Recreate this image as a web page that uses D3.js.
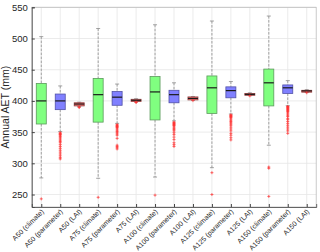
<!DOCTYPE html>
<html><head><meta charset="utf-8">
<script src="https://cdn.jsdelivr.net/npm/d3@7/dist/d3.min.js"></script>
<style>body{margin:0;background:#fff}svg{display:block}</style>
</head><body><svg id="c" width="320" height="252"></svg>
<script>
const categories = ["A50 (climate)","A50 (parameter)","A50 (LAI)","A75 (climate)","A75 (parameter)","A75 (LAI)","A100 (climate)","A100 (parameter)","A100 (LAI)","A125 (climate)","A125 (parameter)","A125 (LAI)","A150 (climate)","A150 (parameter)","A150 (LAI)"];
const groups = ["climate","parameter","LAI","climate","parameter","LAI","climate","parameter","LAI","climate","parameter","LAI","climate","parameter","LAI"];
const whiskerHigh = [503,424,398,516,427,403.5,522,429,407,528,431,413,536,432.5,418];
const q3 =          [428,411,397,436,415,402.6,439,417,406.4,440,422.5,412,451,425.6,417];
const medians =     [400,400,395,410,406,401,414.4,410,404,421,416.5,410.5,429,421,416];
const q1 =          [363,386,392,366,393,399,369.5,397,401.6,380,405,409,392,412,414];
const whiskerLow =  [276.6,351,391,276,364,398.5,278,368,401,293,379,408.5,329,392.5,413.5];
const outliers = [
  [243],
  [349,348,347,346,345,343,341,339,337,335,333,330,327,324,321,318,315,312,309,307],
  [390,389.5],
  [245.5],
  [362,361,360,359,358,357,355,353,351,349,347,345,340,329,327,325,323],
  [398,397.5],
  [249],
  [366,365,364,363,362,361,360,358,356,354,352,349,346,342,338,333,330,327],
  [400.5],
  [285,250],
  [377.5,377,376,375,374,373,371,369,367,365,363,361,358,355,352,348,345,341,337.5],
  [408],
  [294,292,247],
  [391,390.5,390,389,388,387,386,385,384,383,381,379,377,375,372,370,367,364,361,358,355,352,348],
  [413]
];
const yTicks = [250,300,350,400,450,500,550];
const fills = {climate:"#80ff80", parameter:"#8080ff", LAI:"#ff7070"};
const strokes = {climate:"#5c9a5c", parameter:"#5050a8", LAI:"#904040"};

const svg = d3.select("#c");
const L=31.8, R=316.2, T=7.3, B=207;
const x = d3.scaleLinear().domain([0.5,15.5]).range([L,R]);
const y = d3.scaleLinear().domain([230,550]).range([B,T]);
const font = "'Liberation Sans', Arial, Helvetica, sans-serif";

// grid
svg.append("g").selectAll("line.v").data(categories).join("line")
  .attr("x1",(d,i)=>x(i+1)).attr("x2",(d,i)=>x(i+1)).attr("y1",T).attr("y2",B)
  .attr("stroke","#e6e6e6").attr("stroke-width",0.8);
svg.append("g").selectAll("line.h").data(yTicks).join("line")
  .attr("x1",L).attr("x2",R).attr("y1",d=>y(d)).attr("y2",d=>y(d))
  .attr("stroke","#e6e6e6").attr("stroke-width",0.8);

// frame
svg.append("rect").attr("x",L).attr("y",T).attr("width",R-L).attr("height",B-T)
  .attr("fill","none").attr("stroke","#bdbdbd").attr("stroke-width",0.8);

// axes
const yAxis = d3.axisLeft(y).tickValues(yTicks).tickSize(-3).tickPadding(4);
const gy = svg.append("g").attr("transform",`translate(${L},0)`).call(yAxis);
gy.select(".domain").attr("stroke","#444").attr("stroke-width",0.8);
gy.selectAll(".tick line").attr("stroke","#444");
gy.selectAll("text").attr("font-family",font).attr("font-size",9.5).attr("fill","#262626");

const xAxis = d3.axisBottom(x).tickValues(d3.range(1,16)).tickSize(-3).tickFormat("");
const gx = svg.append("g").attr("transform",`translate(0,${B})`).call(xAxis);
gx.select(".domain").attr("stroke","#444").attr("stroke-width",0.8);
gx.selectAll(".tick line").attr("stroke","#444");

svg.append("g").selectAll("text").data(categories).join("text")
  .attr("transform",(d,i)=>`translate(${x(i+1)+3},${B+5}) rotate(-45)`)
  .attr("text-anchor","end").attr("font-family",font).attr("font-size",7)
  .attr("fill","#262626").text(d=>d);

svg.append("text").attr("transform",`translate(9,${(T+B)/2}) rotate(-90)`)
  .attr("text-anchor","middle").attr("font-family",font).attr("font-size",10.5)
  .attr("fill","#262626").text("Annual AET (mm)");

// boxes
const bw = 10, cw = 4;
const g = svg.append("g");
categories.forEach((c,i)=>{
  const cx = x(i+1), grp = groups[i];
  // whiskers
  g.append("line").attr("x1",cx).attr("x2",cx).attr("y1",y(whiskerHigh[i])).attr("y2",y(q3[i]))
    .attr("stroke","#8c8c8c").attr("stroke-width",0.8).attr("stroke-dasharray","2.5,1.5");
  g.append("line").attr("x1",cx).attr("x2",cx).attr("y1",y(q1[i])).attr("y2",y(whiskerLow[i]))
    .attr("stroke","#8c8c8c").attr("stroke-width",0.8).attr("stroke-dasharray","2.5,1.5");
  [whiskerHigh[i],whiskerLow[i]].forEach(v=>{
    g.append("line").attr("x1",cx-cw/2).attr("x2",cx+cw/2).attr("y1",y(v)).attr("y2",y(v))
      .attr("stroke","#8c8c8c").attr("stroke-width",0.8);
  });
  g.append("rect").attr("x",cx-bw/2).attr("width",bw).attr("y",y(q3[i]))
    .attr("height",Math.max(1,y(q1[i])-y(q3[i])))
    .attr("fill",fills[grp]).attr("stroke",strokes[grp]).attr("stroke-width",0.8);
  g.append("line").attr("x1",cx-bw/2).attr("x2",cx+bw/2).attr("y1",y(medians[i])).attr("y2",y(medians[i]))
    .attr("stroke","#1a1a1a").attr("stroke-width",1.2);
  outliers[i].forEach(v=>{
    const py = y(v);
    g.append("path").attr("d",`M${cx-1.5},${py}H${cx+1.5}M${cx},${py-1.5}V${py+1.5}`)
      .attr("stroke","#ff3030").attr("stroke-width",0.7).attr("fill","none");
  });
});
</script></body></html>
